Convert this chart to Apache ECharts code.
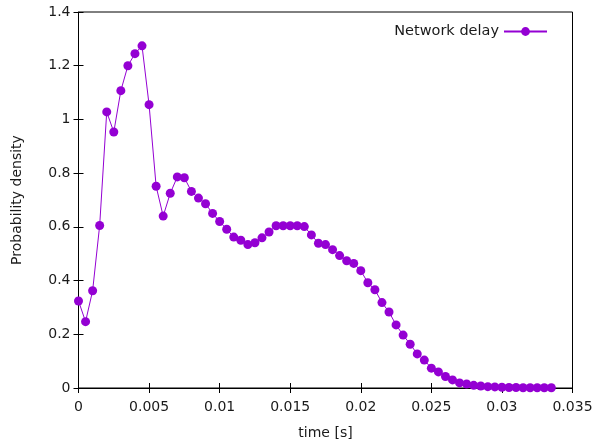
<!DOCTYPE html>
<html>
<head>
<meta charset="utf-8">
<script src="https://cdn.jsdelivr.net/npm/echarts@6/dist/echarts.min.js"></script>
<style>
  html, body { margin: 0; padding: 0; background: #fff; }
  #chart { width: 597px; height: 445px; }
</style>
</head>
<body>
<div id="chart"></div>
<script>
  // time [s] of each sample
  var times = [
    0, 0.0005, 0.001, 0.0015, 0.002, 0.0025, 0.003, 0.0035, 0.004, 0.0045,
    0.005, 0.0055, 0.006, 0.0065, 0.007, 0.0075, 0.008, 0.0085, 0.009, 0.0095,
    0.01, 0.0105, 0.011, 0.0115, 0.012, 0.0125, 0.013, 0.0135, 0.014, 0.0145,
    0.015, 0.0155, 0.016, 0.0165, 0.017, 0.0175, 0.018, 0.0185, 0.019, 0.0195,
    0.02, 0.0205, 0.021, 0.0215, 0.022, 0.0225, 0.023, 0.0235, 0.024, 0.0245,
    0.025, 0.0255, 0.026, 0.0265, 0.027, 0.0275, 0.028, 0.0285, 0.029, 0.0295,
    0.03, 0.0305, 0.031, 0.0315, 0.032, 0.0325, 0.033, 0.0335
  ]
  // probability density
  var density = [
    0.324, 0.247, 0.362, 0.605, 1.028, 0.953, 1.107, 1.200, 1.245, 1.274,
    1.055, 0.751, 0.640, 0.725, 0.786, 0.783, 0.732, 0.707, 0.686, 0.650,
    0.620, 0.591, 0.562, 0.550, 0.534, 0.541, 0.559, 0.581, 0.604, 0.604,
    0.604, 0.604, 0.601, 0.570, 0.539, 0.534, 0.515, 0.493, 0.474, 0.464,
    0.437, 0.392, 0.366, 0.318, 0.283, 0.235, 0.197, 0.163, 0.127, 0.104,
    0.074, 0.060, 0.043, 0.030, 0.019, 0.015, 0.010, 0.0075, 0.005, 0.004,
    0.003, 0.002, 0.002, 0.001, 0.001, 0.001, 0.001, 0.001
  ]
  var seriesName = 'Network delay'

  var points = []
  for (var i = 0; i < times.length; i++) {
    points.push([times[i], density[i]])
  }

  var font = 'DejaVu Sans'
  var black = '#000'
  var textColor = '#1a1a1a'

  function mirrorAxis (pos, isX) {
    return {
      type: 'value',
      position: pos,
      min: 0,
      max: isX ? 0.035 : 1.4,
      interval: isX ? 0.005 : 0.2,
      axisLine: { show: false },
      axisTick: { show: true, inside: true, length: 5, lineStyle: { color: black } },
      axisLabel: { show: false },
      splitLine: { show: false }
    }
  }

  var myChart = echarts.init(document.getElementById('chart'))
  var option = {
    animation: false,
    textStyle: { fontFamily: font },
    grid: {
      left: 78.5,
      right: 24.5,
      top: 12,
      bottom: 56,
      show: true,
      borderColor: black,
      borderWidth: 1
    },
    legend: {
      data: [seriesName],
      right: 44,
      top: 19,
      align: 'right',
      itemWidth: 43,
      itemHeight: 11,
      textStyle: { fontFamily: font, fontSize: 14.5, color: textColor }
    },
    xAxis: [{
      type: 'value',
      min: 0,
      max: 0.035,
      interval: 0.005,
      name: 'time [s]',
      nameLocation: 'middle',
      nameGap: 38,
      nameTextStyle: { fontFamily: font, fontSize: 14, color: textColor },
      axisLine: { show: true, lineStyle: { color: black } },
      axisTick: { show: true, inside: true, length: 5, lineStyle: { color: black } },
      axisLabel: { fontFamily: font, fontSize: 14, color: textColor, margin: 12 },
      splitLine: { show: false }
    }, mirrorAxis('top', true)],
    yAxis: [{
      type: 'value',
      min: 0,
      max: 1.4,
      interval: 0.2,
      name: 'Probability density',
      nameLocation: 'middle',
      nameGap: 54,
      nameTextStyle: { fontFamily: font, fontSize: 14, color: textColor },
      axisLine: { show: true, lineStyle: { color: black } },
      axisTick: { show: true, inside: true, length: 5, lineStyle: { color: black } },
      axisLabel: { fontFamily: font, fontSize: 14, color: textColor, margin: 8 },
      splitLine: { show: false }
    }, mirrorAxis('right', false)],
    series: [{
      name: seriesName,
      type: 'line',
      data: points,
      symbol: 'circle',
      symbolSize: 9,
      showAllSymbol: true,
      lineStyle: { color: '#9400D3', width: 1 },
      itemStyle: { color: '#9400D3' }
    }]
  }
  myChart.setOption(option)
</script>
</body>
</html>
